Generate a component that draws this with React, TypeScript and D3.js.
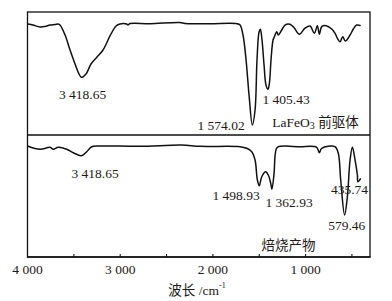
import React from "react";
import * as d3 from "d3";

// Wavenumber (cm^-1) and relative transmittance (0-100) for each spectrum
const precursorWave = [3995, 3941, 3865, 3811, 3757, 3703, 3671, 3649, 3595, 3541, 3487, 3444, 3418, 3369, 3315, 3250, 3185, 3110, 3045, 3002, 2930, 2916, 2894, 2678, 2355, 2301, 2031, 1740, 1707, 1675, 1642, 1610, 1574, 1545, 1524, 1502, 1488, 1470, 1448, 1427, 1405, 1389, 1373, 1351, 1337, 1311, 1294, 1257, 1222, 1168, 1124, 1067, 1006, 952, 905, 873, 851, 826, 779, 718, 682, 657, 628, 599, 571, 520, 485, 448, 405];
const precursorT = [90.2, 89.4, 87.8, 88.2, 89.4, 89.8, 90.2, 89.4, 81.3, 69.1, 57.7, 49.6, 46.9, 49.6, 57.7, 63.4, 69.1, 80.5, 88.6, 90.2, 90.2, 89.4, 90.6, 90.5, 91.5, 90.6, 90.5, 90.5, 89.4, 81.3, 61, 32.5, 8.1, 20.3, 61, 83.7, 85.9, 77.2, 56.9, 40.7, 37.2, 43.1, 61, 77.2, 79.9, 84, 81.3, 85.4, 89.4, 90, 87.2, 81.9, 86.8, 88.6, 82.7, 88.9, 81.9, 88.1, 88.9, 86.2, 82.7, 78.6, 75.9, 79.9, 76.4, 81.3, 86.2, 89.4, 88.9];

const calcinedWave = [4000, 3865, 3757, 3722, 3668, 3577, 3506, 3418, 3361, 3307, 3218, 2786, 2336, 2139, 1707, 1635, 1581, 1545, 1520, 1499, 1473, 1430, 1402, 1376, 1363, 1340, 1326, 1305, 1060, 880, 852, 826, 683, 647, 621, 579, 549, 520, 495, 466, 441, 436, 405];
const calcinedT = [91.0, 88.3, 89.9, 88.3, 89.9, 88.3, 85.5, 83.0, 86.3, 90.4, 91.0, 90.7, 91.8, 90.7, 90.4, 89.1, 86.3, 79.5, 63.1, 58.4, 65.8, 69.9, 67.2, 60.4, 55.5, 68.6, 85.0, 89.9, 90.4, 89.9, 85.5, 89.1, 90.4, 85.0, 63.1, 34.4, 49.4, 79.5, 89.9, 79.5, 67.2, 61.7, 64.5];

const majorTicks = [4000, 3000, 2000, 1000];
const majorTickLabels = ["4 000", "3 000", "2 000", "1 000"];
const allTicks = [3500, 3000, 2500, 2000, 1500, 1000, 500];

const precursorPeaks = ["3 418.65", "1 574.02", "1 405.43"];
const calcinedPeaks = ["3 418.65", "1 498.93", "1 362.93", "435.74", "579.46"];

const FONT = "'Liberation Serif', 'Times New Roman', 'Noto Sans CJK SC', serif";
const INK = "#231815";

export default function App() {
  const left = 27.5, right = 370;
  const top1 = 12, bot1 = 135, bot2 = 257;
  const x = d3.scaleLinear().domain([4000, 305]).range([left, right]);
  const y1 = d3.scaleLinear().domain([0, 100]).range([bot1, top1]);
  const y2 = d3.scaleLinear().domain([0, 100]).range([bot2, bot1]);

  const mk = (ys: d3.ScaleLinear<number, number>) =>
    d3
      .line<[number, number]>()
      .x((d) => x(d[0]))
      .y((d) => ys(d[1]))
      .curve(d3.curveCatmullRom.alpha(0.5));

  const p1 = mk(y1)(precursorWave.map((w, i) => [w, precursorT[i]]) as [number, number][]) || "";
  const p2 = mk(y2)(calcinedWave.map((w, i) => [w, calcinedT[i]]) as [number, number][]) || "";

  const fs = 13.5;

  return (
    <svg
      width={392}
      height={301}
      style={{ position: "absolute", left: 0, top: 0, background: "#fff" }}
      fontFamily={FONT}
    >
      <rect x={0} y={0} width={392} height={301} fill="#fff" />
      {/* frames */}
      <rect x={left} y={top1} width={right - left} height={bot2 - top1} fill="none" stroke="#111" strokeWidth={1.3} />
      <line x1={left} x2={right} y1={bot1} y2={bot1} stroke="#111" strokeWidth={1.3} />
      <line x1={left - 0.5} x2={right + 0.5} y1={bot2} y2={bot2} stroke="#111" strokeWidth={1.7} />
      {allTicks.map((t) => (
        <line key={t} x1={x(t)} x2={x(t)} y1={bot2} y2={bot2 - 3} stroke="#111" strokeWidth={1.1} />
      ))}
      {majorTicks.map((t, i) => (
        <text key={t} x={x(t)} y={269} fontSize={fs} textAnchor="middle" dominantBaseline="central" fill={INK}>
          {majorTickLabels[i]}
        </text>
      ))}
      <text x={197} y={290} fontSize={fs} textAnchor="middle" dominantBaseline="central" fill={INK}>
        波长 /cm<tspan fontSize={8} dy={-5}>-1</tspan>
      </text>

      {/* spectra */}
      <path d={p1} fill="none" stroke="#111" strokeWidth={1.5} strokeLinejoin="round" />
      <path d={p2} fill="none" stroke="#111" strokeWidth={1.5} strokeLinejoin="round" />

      {/* precursor labels */}
      <g fontSize={fs} fill={INK} textAnchor="middle" dominantBaseline="central">
        <text x={82.5} y={94.5}>{precursorPeaks[0]}</text>
        <text x={221} y={125.5}>{precursorPeaks[1]}</text>
        <text x={286} y={99.5}>{precursorPeaks[2]}</text>
        <text x={315.5} y={122}>
          LaFeO<tspan fontSize={10} dy={2.5}>3</tspan>
          <tspan dy={-2.5}> 前驱体</tspan>
        </text>
      </g>

      {/* calcined labels */}
      <g fontSize={fs} fill={INK} textAnchor="middle" dominantBaseline="central">
        <text x={95} y={173}>{calcinedPeaks[0]}</text>
        <text x={236} y={195}>{calcinedPeaks[1]}</text>
        <text x={289} y={202}>{calcinedPeaks[2]}</text>
        <text x={349.5} y={189.5}>{calcinedPeaks[3]}</text>
        <text x={346.7} y={225}>{calcinedPeaks[4]}</text>
        <text x={288.5} y={245}>焙烧产物</text>
      </g>
    </svg>
  );
}
